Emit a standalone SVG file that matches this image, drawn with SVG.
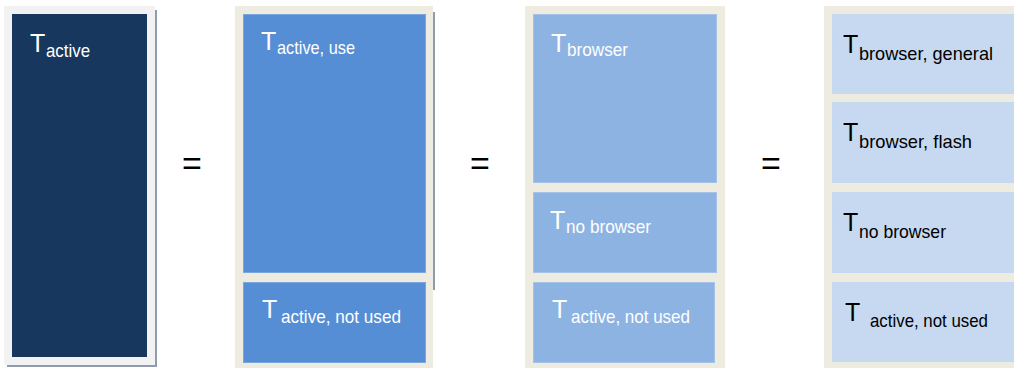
<svg xmlns="http://www.w3.org/2000/svg" width="1014" height="368" viewBox="0 0 1014 368">
  <style>
    .panel1 { fill: #f2f2f2; }
    .panel { fill: #eeece1; }
    .shadow { fill: #8e9cb0; }
    .c1 { fill: #17375e; }
    .c2 { fill: #558ed5; stroke: #7aa6de; stroke-width: 1; }
    .c3 { fill: #8db3e2; stroke: #a5c3e8; stroke-width: 1; }
    .c4 { fill: #c6d9f1; }
    text { font-family: "Liberation Sans", Arial, sans-serif; }
    .big { font-size: 25px; }
    .sub { font-size: 19px; }
    .w { fill: #ffffff; }
    .k { fill: #000000; }
    .eq { font-size: 34px; fill: #000000; text-anchor: middle; }
  </style>
  <rect width="1014" height="368" fill="#ffffff"/>

  <!-- Column 1 -->
  <g id="col1">
    <rect class="shadow" x="7" y="10" width="150" height="357"/>
    <rect class="panel1" x="4" y="6" width="151" height="359"/>
    <g id="t-active">
      <rect class="c1" x="12" y="14" width="135" height="343"/>
      <text class="w big" x="30" y="52">T</text>
      <text class="w sub" x="46" y="57" textLength="44" lengthAdjust="spacingAndGlyphs">active</text>
    </g>
  </g>

  <text class="eq" x="192" y="175">=</text>

  <!-- Column 2 -->
  <g id="col2">
    <rect class="shadow" x="433" y="12" width="2" height="278"/>
    <rect class="panel" x="235" y="6" width="198" height="362"/>
    <g id="t-active-use">
      <rect class="c2" x="243.5" y="14.5" width="182" height="258"/>
      <text class="w big" x="261" y="50">T</text>
      <text class="w sub" x="277" y="54" textLength="78" lengthAdjust="spacingAndGlyphs">active, use</text>
    </g>
    <g id="t-active-notused-2">
      <rect class="c2" x="243.5" y="282.5" width="182" height="80"/>
      <text class="w big" x="262" y="318">T</text>
      <text class="w sub" x="281" y="323" textLength="120" lengthAdjust="spacingAndGlyphs">active, not used</text>
    </g>
  </g>

  <text class="eq" x="480" y="175">=</text>

  <!-- Column 3 -->
  <g id="col3">
    <rect class="panel" x="525" y="6" width="200" height="362"/>
    <g id="t-browser">
      <rect class="c3" x="533.5" y="14.5" width="183" height="168"/>
      <text class="w big" x="551" y="52">T</text>
      <text class="w sub" x="567" y="56" textLength="61" lengthAdjust="spacingAndGlyphs">browser</text>
    </g>
    <g id="t-nobrowser-3">
      <rect class="c3" x="533.5" y="192.5" width="183" height="80"/>
      <text class="w big" x="550" y="229">T</text>
      <text class="w sub" x="566" y="233" textLength="85" lengthAdjust="spacingAndGlyphs">no browser</text>
    </g>
    <g id="t-active-notused-3">
      <rect class="c3" x="533.5" y="282.5" width="181" height="80"/>
      <text class="w big" x="552" y="318">T</text>
      <text class="w sub" x="571" y="323" textLength="119" lengthAdjust="spacingAndGlyphs">active, not used</text>
    </g>
  </g>

  <text class="eq" x="771" y="175">=</text>

  <!-- Column 4 -->
  <g id="col4">
    <rect class="panel" x="824" y="6" width="190" height="362"/>
    <g id="t-browser-general">
      <rect class="c4" x="832" y="14" width="182" height="80"/>
      <text class="k big" x="843" y="53">T</text>
      <text class="k sub" x="859" y="60" textLength="134" lengthAdjust="spacingAndGlyphs">browser, general</text>
    </g>
    <g id="t-browser-flash">
      <rect class="c4" x="832" y="102" width="182" height="81"/>
      <text class="k big" x="843" y="141">T</text>
      <text class="k sub" x="859" y="148" textLength="113" lengthAdjust="spacingAndGlyphs">browser, flash</text>
    </g>
    <g id="t-nobrowser-4">
      <rect class="c4" x="832" y="192" width="182" height="81"/>
      <text class="k big" x="843" y="231">T</text>
      <text class="k sub" x="859" y="238" textLength="87" lengthAdjust="spacingAndGlyphs">no browser</text>
    </g>
    <g id="t-active-notused-4">
      <rect class="c4" x="832" y="282" width="182" height="80"/>
      <text class="k big" x="845" y="321">T</text>
      <text class="k sub" x="870" y="327" textLength="118" lengthAdjust="spacingAndGlyphs">active, not used</text>
    </g>
  </g>

  <g id="connectors"></g>
</svg>
